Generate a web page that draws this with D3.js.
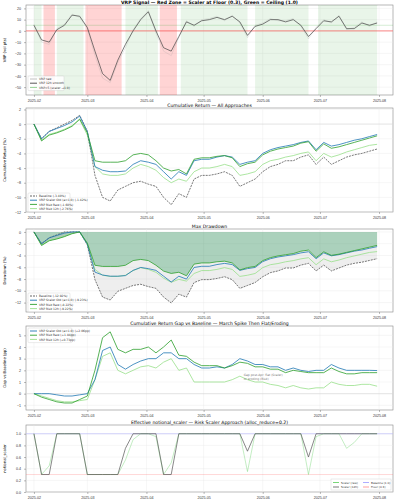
<!DOCTYPE html>
<html><head><meta charset="utf-8">
<script src="https://cdn.jsdelivr.net/npm/d3@7"></script>
<style>body{margin:0;background:#fff}svg{font-family:"DejaVu Sans",sans-serif}</style>
</head><body><svg id="c" width="400" height="500"></svg>
<script>
// dates every 4 days, Feb 1 to Jul 31 2025
var dates = d3.range(46).map(function(k){ return new Date(2025,1,1+4*k); });

var vrpSmooth = [5,-8,-10,1,5,14,13,3,-18,-38,-44,-26,-12,0,10,17,0,-15,-18,-5,8,5,9,10,12,10,13,8,-4,4,6,10,10,8,10,5,-5,2,9,8,13,2,2,7,5,7];
var vrpRaw    = [6,-10,-12,2,6,15,12,2,-22,-42,-46,-28,-15,1,11,18,-2,-18,-22,-6,9,4,10,11,13,9,14,7,-6,5,7,11,9,9,11,4,-7,3,10,7,14,1,3,8,4,8];
var redZones   = [["2025-02-06","2025-02-12"],["2025-02-28","2025-03-19"],["2025-04-08","2025-04-17"]];
var greenZones = [["2025-02-01","2025-02-05"],["2025-02-13","2025-02-27"],["2025-03-21","2025-04-07"],["2025-04-19","2025-05-24"],["2025-05-28","2025-06-25"],["2025-06-30","2025-07-31"]];

var cumBase  = [0,-2,-1,-0.5,0,0.5,1.2,-1,-7,-10,-10.5,-9,-8.5,-8,-7.8,-8.2,-8.5,-10,-11,-9.5,-10,-7.5,-7,-7,-6.8,-6.5,-7,-8.5,-8,-7.5,-6.5,-5.8,-5.5,-5,-5,-4.5,-4.2,-5.5,-4.5,-5.5,-5,-4.5,-4.2,-4,-3.7,-3.4];
var cumOld   = [0,-2,-1,-0.6,-0.2,0.3,1.1,-1,-5.8,-6.3,-6.5,-6.5,-6.4,-5.5,-5,-5.2,-5.5,-6.5,-7.5,-6.5,-7,-5,-4.8,-4.8,-4.5,-4.3,-4.5,-5.5,-5.2,-5,-4,-3.5,-3.2,-3,-2.8,-2.5,-2.3,-3.5,-2.5,-3,-2.8,-2.5,-2.2,-2,-1.7,-1.42];
var cumRaw   = [0,-2.3,-1.5,-1.2,-0.8,-0.3,0.7,-1.2,-5,-5.2,-5.2,-5.2,-5,-4.2,-4,-4.2,-5,-6,-6.4,-6.2,-6.8,-4.8,-4.6,-4.6,-4.4,-4.3,-4.6,-5.8,-5.4,-5.2,-4.2,-3.7,-3.4,-3.2,-3,-2.6,-2.4,-3.7,-2.7,-3.3,-3.1,-2.8,-2.5,-2.2,-1.9,-1.6];
var cum12h   = [0,-2.2,-1.4,-1.1,-0.7,-0.2,0.6,-1.5,-5.8,-6.8,-7,-7,-6.8,-6,-5.5,-5.8,-6.3,-7.3,-8,-7.5,-7.8,-6.5,-6,-6,-5.8,-5.5,-5.8,-7,-6.8,-6.5,-5.5,-5,-4.8,-4.5,-4.3,-4,-3.8,-5,-4,-4.5,-4.2,-3.8,-3.5,-3.2,-2.9,-2.76];

var scaler12h = [1,0.3,0.3,1,1,1,1,0.3,0.3,0.3,0.3,0.3,0.75,1,1,1,1,0.3,0.3,1,1,1,1,1,1,1,1,1,0.7,1,1,1,1,1,1,1,0.6,1,1,1,1,1,1,1,1,1];
var scalerRaw = [1,0.3,0.45,1,1,1,1,0.3,0.3,0.3,0.3,0.3,0.55,0.9,1,1,0.95,0.3,0.5,1,1,1,1,1,1,1,1,1,0.35,1,1,1,1,1,1,1,0.3,0.95,1,1,1,0.75,0.85,1,1,1];

var cBase = "#555", cOld = "#1f77b4", cRaw = "#2ca02c", c12h = "#98df8a";

function dd(arr){ var pk = -Infinity; return arr.map(function(v){ var w = 1+v/100; pk = Math.max(pk,w); return (w/pk-1)*100; }); }
function gap(arr){ return arr.map(function(v,i){ return v-cumBase[i]; }); }

var svg = d3.select("#c");
var L = 26, R = 393;
var x = d3.scaleTime().domain([new Date(2025,0,27,20), new Date(2025,7,8,8)]).range([L,R]);

function panel(top, bottom, title, yDom, yTicks, ylab, bold){
  var y = d3.scaleLinear().domain(yDom).range([bottom, top]);
  var g = svg.append("g");
  g.append("rect").attr("x",L).attr("y",top).attr("width",R-L).attr("height",bottom-top).attr("fill","#fff").attr("stroke","#888").attr("stroke-width",0.6);
  g.selectAll(".gx").data(x.ticks(d3.timeMonth.every(1))).join("line").attr("x1",x).attr("x2",x).attr("y1",top).attr("y2",bottom).attr("stroke","#e8e8e8").attr("stroke-width",0.4);
  g.selectAll(".gy").data(yTicks).join("line").attr("x1",L).attr("x2",R).attr("y1",y).attr("y2",y).attr("stroke","#e8e8e8").attr("stroke-width",0.4);
  var ax = g.append("g").attr("transform","translate(0,"+bottom+")").call(d3.axisBottom(x).ticks(d3.timeMonth.every(1)).tickFormat(d3.timeFormat("%Y-%m")).tickSize(2));
  var ay = g.append("g").attr("transform","translate("+L+",0)").call(d3.axisLeft(y).tickValues(yTicks).tickSize(2));
  [ax,ay].forEach(function(a){ a.select(".domain").remove(); a.selectAll("text").attr("font-size",3.6).attr("fill","#333"); a.selectAll("line").attr("stroke","#555").attr("stroke-width",0.4); });
  ax.selectAll("text").attr("dy","0.6em");
  svg.append("text").attr("x",(L+R)/2).attr("y",top-1.5).attr("text-anchor","middle").attr("font-size",4.6).attr("font-weight",bold?"bold":"normal").text(title);
  svg.append("text").attr("transform","translate(6,"+((top+bottom)/2)+") rotate(-90)").attr("text-anchor","middle").attr("font-size",3.8).text(ylab);
  return {g:g, y:y, top:top, bottom:bottom};
}
function line(p, vals, col, w, dash, op){
  p.g.append("path").datum(vals).attr("fill","none").attr("stroke",col).attr("stroke-width",w).attr("stroke-opacity",op||1)
    .attr("stroke-dasharray",dash||null)
    .attr("d",d3.line().x(function(d,i){return x(dates[i]);}).y(function(d){return p.y(d);}));
}
function legend(p, lx, ly, items, w){
  var h = items.length*4.2+2;
  var g = p.g.append("g").attr("transform","translate("+lx+","+ly+")");
  g.append("rect").attr("width",w).attr("height",h).attr("fill","#fff").attr("fill-opacity",0.85).attr("stroke","#ccc").attr("stroke-width",0.4).attr("rx",1);
  items.forEach(function(it,i){
    var yy = 3+i*4.2;
    g.append("line").attr("x1",2).attr("x2",9).attr("y1",yy).attr("y2",yy).attr("stroke",it[1]).attr("stroke-width",0.9).attr("stroke-dasharray",it[2]||null);
    g.append("text").attr("x",11).attr("y",yy+1.2).attr("font-size",3).attr("fill","#333").text(it[0]);
  });
}

// panel 1: VRP signal
var p1 = panel(5, 95, "VRP Signal \u2014 Red Zone = Scaler at Floor (0.3), Green = Ceiling (1.0)", [-57,23], [-50,-40,-30,-20,-10,0,10,20], "VRP (vol pts)", true);
function zones(z, col, op){
  p1.g.selectAll(null).data(z).join("rect").attr("x",function(d){return x(new Date(d[0]));}).attr("width",function(d){return x(new Date(d[1]))-x(new Date(d[0]));})
    .attr("y",p1.top).attr("height",p1.bottom-p1.top).attr("fill",col).attr("fill-opacity",op);
}
zones(greenZones,"#2ca02c",0.1); zones(redZones,"#ff0000",0.17);
p1.g.append("line").attr("x1",L).attr("x2",R).attr("y1",p1.y(0)).attr("y2",p1.y(0)).attr("stroke","#f44").attr("stroke-opacity",0.5).attr("stroke-width",1.4);
p1.g.append("line").attr("x1",L).attr("x2",R).attr("y1",p1.y(5)).attr("y2",p1.y(5)).attr("stroke","#2ca02c").attr("stroke-opacity",0.5).attr("stroke-width",0.4);
line(p1, vrpRaw, "#999", 0.4, null, 0.5);
line(p1, vrpSmooth, "#444", 0.7);
legend(p1, 28, 76, [["VRP raw","#bbb"],["VRP 12h smooth","#444"],["VRP=5 (scaler \u21921.0)","#8c8"]], 36);

// panel 2: cumulative return
var p2 = panel(108, 212, "Cumulative Return \u2014 All Approaches", [-12,2.2], [-12,-10,-8,-6,-4,-2,0,2], "Cumulative Return (%)");
p2.g.append("line").attr("x1",L).attr("x2",R).attr("y1",p2.y(0)).attr("y2",p2.y(0)).attr("stroke","#ccc").attr("stroke-width",0.4);
line(p2, cum12h, c12h, 0.8); line(p2, cumBase, cBase, 0.8, "2,1"); line(p2, cumOld, cOld, 0.8); line(p2, cumRaw, cRaw, 0.8);
legend(p2, 28, 193, [["Baseline (-3.40%)",cBase,"2,1"],["VRP Scaler Old (a=1.0) (-1.42%)",cOld],["VRP Risk Raw (-1.60%)",cRaw],["VRP Risk 12h (-2.76%)",c12h]], 42);

// panel 3: drawdown
var ddBase = dd(cumBase), ddOld = dd(cumOld), ddRaw = dd(cumRaw), dd12h = dd(cum12h);
var p3 = panel(229, 312, "Max Drawdown", [-13.6,0.5], [-12,-10,-8,-6,-4,-2,0], "Drawdown (%)");
var area = d3.area().x(function(d,i){return x(dates[i]);});
p3.g.append("path").datum(ddRaw).attr("fill","#2e8b57").attr("fill-opacity",0.4).attr("d",area.y0(p3.y(0)).y1(function(d){return p3.y(d);}));
p3.g.append("path").datum(ddBase).attr("fill","#aaa").attr("fill-opacity",0.2).attr("d",d3.area().x(function(d,i){return x(dates[i]);}).y0(function(d,i){return p3.y(ddRaw[i]);}).y1(function(d){return p3.y(d);}));
line(p3, dd12h, c12h, 0.8); line(p3, ddBase, cBase, 0.8, "2,1"); line(p3, ddOld, cOld, 0.8); line(p3, ddRaw, cRaw, 0.8);
legend(p3, 28, 293, [["Baseline (-12.92%)",cBase,"2,1"],["VRP Scaler Old (a=1.0) (-9.23%)",cOld],["VRP Risk Raw (-8.22%)",cRaw],["VRP Risk 12h (-9.22%)",c12h]], 42);

// panel 4: gap vs baseline
var p4 = panel(326, 410, "Cumulative Return Gap vs Baseline \u2014 March Spike Then Flat/Eroding", [-1.4,5.8], [-1,0,1,2,3,4,5], "Gap vs Baseline (pp)");
p4.g.append("line").attr("x1",L).attr("x2",R).attr("y1",p4.y(0)).attr("y2",p4.y(0)).attr("stroke","#ccc").attr("stroke-width",0.4);
line(p4, gap(cum12h), c12h, 0.8); line(p4, gap(cumOld), cOld, 0.8); line(p4, gap(cumRaw), cRaw, 0.8);
legend(p4, 28, 328, [["VRP Scaler Old (a=1.0) (+2.06pp)",cOld],["VRP Risk Raw (+1.84pp)",cRaw],["VRP Risk 12h (+0.73pp)",c12h]], 44);
p4.g.append("text").attr("x",x(new Date(2025,4,22))).attr("y",p4.y(1.55)).attr("font-size",3).attr("fill","#777").text("Gap post-Apr: flat (Scaler)");
p4.g.append("text").attr("x",x(new Date(2025,4,22))).attr("y",p4.y(1.2)).attr("font-size",3).attr("fill","#777").text("or eroding (Risk)");

// panel 5: scaler
var p5 = panel(425, 492, "Effective notional_scaler \u2014 Risk Scaler Approach (alloc_reduce=0.2)", [0,1.15], [0,0.2,0.4,0.6,0.8,1.0], "notional_scaler");
p5.g.append("line").attr("x1",L).attr("x2",R).attr("y1",p5.y(1)).attr("y2",p5.y(1)).attr("stroke","#99f").attr("stroke-opacity",0.5).attr("stroke-width",0.8);
p5.g.append("line").attr("x1",L).attr("x2",R).attr("y1",p5.y(0.3)).attr("y2",p5.y(0.3)).attr("stroke","#f66").attr("stroke-opacity",0.5).attr("stroke-width",0.5);
line(p5, scalerRaw, "#5c5", 0.5, null, 0.7);
line(p5, scaler12h, "#555", 0.7);
var lg = p5.g.append("g").attr("transform","translate(331,479)");
lg.append("rect").attr("width",60).attr("height",11).attr("fill","#fff").attr("stroke","#ccc").attr("stroke-width",0.4);
[["Scaler (raw)","#5c5",0,0],["Scaler (12h)","#555",0,1],["Baseline (1.0)","#99f",1,0],["Floor (0.3)","#f88",1,1]].forEach(function(it){
  var gx = 2+it[2]*30, gy = 3.5+it[3]*4.5;
  lg.append("line").attr("x1",gx).attr("x2",gx+6).attr("y1",gy).attr("y2",gy).attr("stroke",it[1]).attr("stroke-width",0.8);
  lg.append("text").attr("x",gx+8).attr("y",gy+1.1).attr("font-size",2.8).attr("fill","#333").text(it[0]);
});
</script></body></html>
